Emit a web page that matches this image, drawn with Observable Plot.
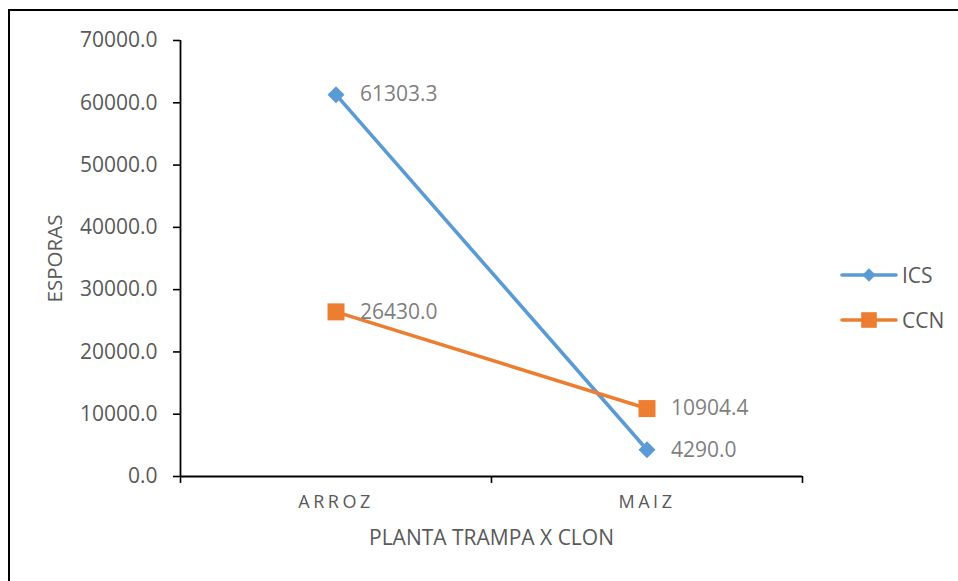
<!DOCTYPE html>
<html>
<head>
<meta charset="utf-8">
<script src="https://cdn.jsdelivr.net/npm/d3@7"></script>
<script src="https://cdn.jsdelivr.net/npm/@observablehq/plot@0.6"></script>
<style>
  body { margin: 0; background: #fff; font-family: "Open Sans", sans-serif; }
  #wrap { position: relative; width: 958px; height: 581px; overflow: hidden; background: #fff; }
  #wrap svg.plot { position: absolute; left: 0; top: 0; }
  #frame { position: absolute; left: 8px; top: 9px; width: 1200px; height: 800px;
           border-left: 2px solid #000; border-top: 2px solid #000; pointer-events: none; }
  #legend { position: absolute; left: 840px; top: 258px; font-size: 21px; color: #595959; }
  .item { position: absolute; left: 0; display: flex; align-items: center; height: 34px; white-space: nowrap; }
  .item svg { display: block; }
  .item span { margin-left: 4px; }
</style>
</head>
<body>
<div id="wrap">
  <div id="frame"></div>
  <div id="legend"></div>
</div>
<script>
// Trap plant categories and spore counts per clone
const categories = ["ARROZ", "MAIZ"];
const seriesNames = ["ICS", "CCN"];
const icsValues = [61303.3, 4290.0];
const ccnValues = [26430.0, 10904.4];
const yTicks = [0, 10000, 20000, 30000, 40000, 50000, 60000, 70000];
const seriesColors = ["#5B9BD5", "#ED7D31"];
const yTitle = "ESPORAS";
const xTitle = "PLANTA TRAMPA X CLON";

const valuesBySeries = {ICS: icsValues, CCN: ccnValues};
const rows = seriesNames.flatMap(s =>
  categories.map((c, i) => ({serie: s, cat: c, pos: i + 0.5, value: valuesBySeries[s][i]}))
);
const fmt = d3.format(".1f");
const color = s => seriesColors[seriesNames.indexOf(s)];

const chart = Plot.plot({
  width: 958,
  height: 581,
  marginLeft: 180,
  marginRight: 156,
  marginTop: 40,
  marginBottom: 105,
  style: {fontFamily: "'Open Sans', sans-serif", fontSize: "21px", color: "#595959", background: "transparent"},
  x: {domain: [0, categories.length], axis: null},
  y: {domain: [0, 70000], axis: null},
  marks: [
    // y axis: ticks, labels and line
    Plot.axisY({ticks: yTicks, tickFormat: fmt, tickSize: 7, tickPadding: 16, stroke: "#000",
                strokeWidth: 1.6, fill: "#595959", fontSize: 21, label: null}),
    Plot.ruleX([0], {stroke: "#000", strokeWidth: 1.8}),
    Plot.ruleY([0], {stroke: "#000", strokeWidth: 1.8}),
    // category boundary ticks under the x axis
    Plot.axisX({ticks: d3.range(categories.length + 1), tickFormat: () => "", tickSize: 7,
                stroke: "#000", strokeWidth: 1.6, label: null}),
    // category names
    Plot.axisX({ticks: categories.map((c, i) => i + 0.5), tickFormat: d => categories[Math.floor(d)],
                tickSize: 0, tickPadding: 19, fill: "#595959", fontSize: 18, label: null}),
    // axis titles
    Plot.text([xTitle], {frameAnchor: "bottom", dy: 68, fill: "#595959", fontSize: 21}),
    Plot.text([yTitle], {frameAnchor: "left", textAnchor: "middle", dx: -125, rotate: -90,
                         fill: "#595959", fontSize: 20.5}),
    // series lines
    Plot.line(rows, {x: "pos", y: "value", z: "serie", stroke: d => color(d.serie), strokeWidth: 3.6}),
    // ICS diamonds
    Plot.dot(rows.filter(d => d.serie === "ICS"),
             {x: "pos", y: "value", symbol: "square", rotate: 45, r: 6.8, fill: color("ICS"), stroke: null}),
    // CCN squares
    Plot.dot(rows.filter(d => d.serie === "CCN"),
             {x: "pos", y: "value", symbol: "square", r: 9.6, fill: color("CCN"), stroke: null}),
    // value labels
    Plot.text(rows, {x: "pos", y: "value", text: d => fmt(d.value), dx: 24, textAnchor: "start",
                     fill: "#7F7F7F", fontSize: 21})
  ]
});
chart.classList.add("plot");
document.getElementById("wrap").appendChild(chart);

// letter-spaced category names
d3.select(chart).selectAll("g[aria-label='x-axis tick label'] text")
  .style("letter-spacing", "3.5px");

// legend
const legend = d3.select("#legend");
seriesNames.forEach((s, i) => {
  const item = legend.append("div").attr("class", "item").style("top", `${i * 45}px`);
  const svg = item.append("svg").attr("width", 58).attr("height", 20);
  svg.append("line").attr("x1", 2).attr("x2", 56).attr("y1", 10).attr("y2", 10)
     .attr("stroke", color(s)).attr("stroke-width", 3.6).attr("stroke-linecap", "round");
  if (s === "ICS") {
    svg.append("rect").attr("x", -4.7).attr("y", -4.7).attr("width", 9.4).attr("height", 9.4)
       .attr("fill", color(s)).attr("transform", "translate(29,10) rotate(45)");
  } else {
    svg.append("rect").attr("x", 29 - 7.8).attr("y", 10 - 7.8).attr("width", 15.6).attr("height", 15.6)
       .attr("fill", color(s));
  }
  item.append("span").text(s);
});
</script>
</body>
</html>
